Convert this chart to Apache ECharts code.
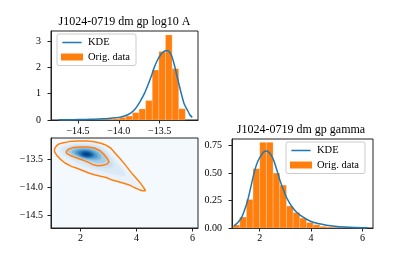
<!DOCTYPE html>
<html><head><meta charset="utf-8">
<script src="https://cdn.jsdelivr.net/npm/echarts@6/dist/echarts.min.js"></script>
<style>html,body{margin:0;padding:0;background:#fff}#c{width:415px;height:257px}</style>
</head><body><div id="c"></div>
<script>
const titleA = 'J1024-0719 dm gp log10 A';
const titleB = 'J1024-0719 dm gp gamma';
const legendNames = ['KDE', 'Orig. data'];

const ticksAx = [-14.5, -14.0, -13.5];
const ticksAy = [0, 1, 2, 3];
const ticksBx = [2, 4, 6];
const ticksBy = [0, 0.25, 0.5, 0.75];
const ticksCx = [2, 4, 6];
const ticksCy = [-14.5, -14.0, -13.5];

// top-left histogram (log10 A)
const histAEdges = [-14.724, -14.643, -14.562, -14.481, -14.400, -14.319, -14.238, -14.157, -14.076, -13.995,
  -13.914, -13.833, -13.752, -13.671, -13.590, -13.509, -13.428, -13.347, -13.266, -13.185];
const histAHeights = [0.005, 0.005, 0.01, 0.01, 0.015, 0.02, 0.03, 0.04, 0.06, 0.10,
  0.15, 0.28, 0.42, 0.74, 1.90, 2.60, 3.23, 1.95, 0.43];
const kdeA = [[-14.74, 0.005], [-14.6, 0.01], [-14.5, 0.015], [-14.4, 0.02], [-14.3, 0.03], [-14.2, 0.045],
  [-14.1, 0.07], [-14.0, 0.10], [-13.93, 0.15], [-13.86, 0.25], [-13.8, 0.42], [-13.74, 0.70], [-13.69, 0.98],
  [-13.65, 1.27], [-13.6, 1.68], [-13.57, 1.96], [-13.53, 2.25], [-13.49, 2.47], [-13.45, 2.60], [-13.41, 2.64],
  [-13.38, 2.58], [-13.35, 2.41], [-13.32, 2.10], [-13.29, 1.71], [-13.26, 1.32], [-13.23, 0.95], [-13.2, 0.62],
  [-13.16, 0.38], [-13.13, 0.20], [-13.1, 0.10]];

// right histogram (gamma)
const histBEdges = [0.96, 1.22, 1.48, 1.74, 2.00, 2.26, 2.52, 2.78, 3.04, 3.30, 3.56, 3.82, 4.08, 4.34,
  4.60, 4.86, 5.12, 5.38, 5.64, 5.90, 6.16];
const histBHeights = [0.027, 0.10, 0.26, 0.54, 0.78, 0.78, 0.50, 0.39, 0.20, 0.14, 0.09, 0.05, 0.03,
  0.015, 0.01, 0.005, 0.004, 0.003, 0.002, 0.002];
const kdeB = [[1.0, 0.02], [1.15, 0.05], [1.29, 0.094], [1.42, 0.17], [1.54, 0.26], [1.67, 0.39], [1.80, 0.52],
  [1.93, 0.61], [2.07, 0.666], [2.17, 0.695], [2.26, 0.70], [2.39, 0.68], [2.52, 0.63], [2.65, 0.54],
  [2.78, 0.44], [2.91, 0.355], [3.04, 0.28], [3.17, 0.225], [3.30, 0.18], [3.43, 0.145], [3.56, 0.12],
  [3.69, 0.098], [3.82, 0.08], [4.05, 0.055], [4.27, 0.04], [4.6, 0.025], [4.92, 0.015], [5.3, 0.008],
  [5.7, 0.004], [6.2, 0.002]];

// 2D density (gamma vs log10 A): level values and their iso-regions
const densityLevels = [0.07, 0.14, 0.23, 0.34, 0.46, 0.58, 0.71, 0.84, 0.93];
const densityPolygons = [
  [[1.15,-13.31],[1.3,-13.24],[1.6,-13.2],[2.0,-13.19],[2.4,-13.2],[2.75,-13.24],[3.0,-13.31],[3.2,-13.42],[3.45,-13.57],[3.75,-13.76],[4.05,-13.93],[4.15,-14.01],[3.9,-13.98],[3.5,-13.9],[3.0,-13.82],[2.5,-13.75],[2.0,-13.66],[1.6,-13.57],[1.3,-13.47],[1.16,-13.38]],
  [[1.3,-13.32],[1.55,-13.25],[1.9,-13.22],[2.3,-13.22],[2.65,-13.26],[2.9,-13.33],[3.1,-13.45],[3.35,-13.6],[3.6,-13.78],[3.3,-13.77],[2.9,-13.72],[2.5,-13.67],[2.1,-13.6],[1.7,-13.5],[1.4,-13.41]],
  [[1.45,-13.33],[1.7,-13.27],[2.0,-13.25],[2.35,-13.26],[2.65,-13.3],[2.88,-13.38],[3.05,-13.5],[3.15,-13.62],[2.85,-13.64],[2.5,-13.6],[2.15,-13.54],[1.8,-13.46],[1.55,-13.4]],
  [[1.58,-13.34],[1.8,-13.29],[2.1,-13.28],[2.42,-13.3],[2.68,-13.35],[2.85,-13.44],[2.92,-13.53],[2.7,-13.56],[2.4,-13.53],[2.1,-13.48],[1.82,-13.43],[1.64,-13.39]],
  [[1.7,-13.35],[1.95,-13.31],[2.25,-13.31],[2.5,-13.34],[2.7,-13.41],[2.72,-13.48],[2.5,-13.5],[2.2,-13.47],[1.92,-13.42],[1.75,-13.39]],
  [[1.82,-13.36],[2.05,-13.33],[2.32,-13.34],[2.55,-13.39],[2.6,-13.45],[2.4,-13.47],[2.15,-13.45],[1.9,-13.41]],
  [[1.93,-13.37],[2.15,-13.35],[2.38,-13.37],[2.5,-13.42],[2.38,-13.45],[2.15,-13.44],[1.98,-13.41]],
  [[2.03,-13.38],[2.2,-13.36],[2.38,-13.39],[2.42,-13.425],[2.3,-13.44],[2.12,-13.43],[2.05,-13.41]],
  [[2.12,-13.39],[2.25,-13.38],[2.33,-13.405],[2.28,-13.425],[2.15,-13.42]]
];
const contourOuter = [[1.07,-13.31],[1.13,-13.26],[1.22,-13.22],[1.36,-13.20],[1.60,-13.175],[1.90,-13.165],[2.20,-13.165],[2.44,-13.175],[2.70,-13.20],[2.88,-13.23],[3.08,-13.29],[3.22,-13.37],[3.34,-13.44],[3.45,-13.50],[3.58,-13.58],[3.72,-13.67],[3.86,-13.76],[4.00,-13.84],[4.14,-13.92],[4.24,-13.99],[4.33,-14.06],[4.22,-14.06],[4.10,-14.04],[3.92,-14.0],[3.72,-13.95],[3.52,-13.92],[3.30,-13.89],[3.10,-13.86],[2.92,-13.82],[2.72,-13.80],[2.50,-13.77],[2.30,-13.74],[2.10,-13.70],[1.90,-13.66],[1.68,-13.62],[1.45,-13.56],[1.28,-13.49],[1.15,-13.42],[1.08,-13.36],[1.07,-13.31]];
const contourInner = [[1.49,-13.36],[1.58,-13.31],[1.75,-13.28],[2.0,-13.27],[2.25,-13.27],[2.50,-13.29],[2.70,-13.34],[2.85,-13.41],[2.96,-13.48],[3.02,-13.54],[2.95,-13.58],[2.80,-13.60],[2.62,-13.61],[2.45,-13.59],[2.25,-13.54],[2.05,-13.50],[1.82,-13.46],[1.62,-13.42],[1.52,-13.39],[1.49,-13.36]];

const FONT = 'Liberation Serif';
const ORANGE = '#ff7f0e', BLUE = '#1f77b4', FRAME = '#222';
const neg = v => (v < 0 ? '\u2212' : '') + Math.abs(v).toFixed(1);
// thin horizontal bar centred in an 22x8 box (legend line icon)
const LINE_ICON = 'path://M0,0H22V0.01H0Z M0,3.25H22V4.75H0Z M0,7.99H22V8H0Z';

function valAxis(idx, min, max, ticks, fmt, margin) {
  return {
    type: 'value', gridIndex: idx, min: min, max: max, scale: true,
    axisLine: { show: true, onZero: false, lineStyle: { color: FRAME, width: 1 } },
    axisTick: { show: true, inside: false, length: 3.5, lineStyle: { color: FRAME, width: 1 }, customValues: ticks },
    axisLabel: { show: true, customValues: ticks, formatter: fmt, fontFamily: FONT, fontSize: 10, color: '#000', margin: margin },
    splitLine: { show: false }
  };
}
function histRender(params, api) {
  const p0 = api.coord([api.value(0), api.value(2)]);
  const p1 = api.coord([api.value(1), 0]);
  return { type: 'rect', shape: { x: p0[0], y: p0[1], width: p1[0] - p0[0], height: p1[1] - p0[1] },
    style: { fill: ORANGE, stroke: 'rgba(255,255,255,0.35)', lineWidth: 0.6 } };
}
const legendCommon = {
  orient: 'vertical', selectedMode: false, itemWidth: 22, itemHeight: 7, itemGap: 3.5,
  padding: [3, 6, 3, 4], backgroundColor: 'rgba(255,255,255,0.85)', borderColor: '#cccccc', borderWidth: 1, borderRadius: 2,
  textStyle: { fontFamily: FONT, fontSize: 10.5, color: '#000' },
  data: [{ name: legendNames[0], icon: LINE_ICON }, { name: legendNames[1], icon: 'rect' }]
};

const chart = echarts.init(document.getElementById('c'), null, { renderer: 'canvas' });
chart.setOption({
  animation: false,
  backgroundColor: '#fff',
  graphic: [
    { type: 'text', x: 124.5, y: 21.5, style: { text: titleA, align: 'center', verticalAlign: 'middle', fontFamily: FONT, fontSize: 12, fill: '#000' } },
    { type: 'text', x: 301, y: 129.5, style: { text: titleB, align: 'center', verticalAlign: 'middle', fontFamily: FONT, fontSize: 12, fill: '#000' } }
  ],
  legend: [
    Object.assign({}, legendCommon, { left: 57, top: 34 }),
    Object.assign({}, legendCommon, { left: 286, top: 142 })
  ],
  grid: [
    { left: 51, top: 31, width: 147, height: 89, show: true, borderColor: FRAME, borderWidth: 1, backgroundColor: '#fff' },
    { left: 51, top: 138, width: 147, height: 90, show: true, borderColor: FRAME, borderWidth: 1, backgroundColor: '#f4f9fe' },
    { left: 232, top: 139, width: 141, height: 89, show: true, borderColor: FRAME, borderWidth: 1, backgroundColor: '#fff' }
  ],
  xAxis: [
    valAxis(0, -14.83, -13.03, ticksAx, neg, 6),
    valAxis(1, 0.95, 6.2, ticksCx, v => String(v), 5),
    valAxis(2, 0.92, 6.41, ticksBx, v => String(v), 5)
  ],
  yAxis: [
    valAxis(0, 0, 3.38, ticksAy, v => String(v), 10),
    valAxis(1, -14.73, -13.11, ticksCy, neg, 8),
    valAxis(2, 0, 0.81, ticksBy, v => v.toFixed(2), 10)
  ],
  visualMap: [{
    type: 'continuous', show: false, seriesIndex: 2, dimension: 0, min: 0, max: 1,
    inRange: { color: ['#f7fbff', '#deebf7', '#c6dbef', '#9ecae1', '#6baed6', '#4292c6', '#2171b5', '#08519c', '#08306b'] }
  }],
  series: [
    { type: 'custom', name: legendNames[1], xAxisIndex: 0, yAxisIndex: 0, z: 2,
      itemStyle: { color: ORANGE },
      data: histAHeights.map((h, i) => [histAEdges[i], histAEdges[i + 1], h]),
      encode: { x: [0, 1], y: 2 }, renderItem: histRender },
    { type: 'line', name: legendNames[0], xAxisIndex: 0, yAxisIndex: 0, z: 3, data: kdeA,
      symbol: 'none', smooth: 0.3, lineStyle: { color: BLUE, width: 1.5 }, itemStyle: { color: BLUE } },
    { type: 'custom', name: 'density', xAxisIndex: 1, yAxisIndex: 1, z: 1,
      data: densityLevels.map((lv, i) => [lv, i]),
      encode: { x: -1, y: -1 },
      renderItem: function (params, api) {
        const idx = api.value(1);
        const pts = densityPolygons[idx].map(p => api.coord(p));
        const c = api.visual('color');
        return { type: 'polygon', shape: { points: pts, smooth: 0.4 }, style: { fill: c, shadowBlur: 3, shadowColor: c } };
      } },
    { type: 'line', name: 'outer contour', xAxisIndex: 1, yAxisIndex: 1, z: 3, data: contourOuter,
      symbol: 'none', lineStyle: { color: ORANGE, width: 1.5 } },
    { type: 'line', name: 'inner contour', xAxisIndex: 1, yAxisIndex: 1, z: 3, data: contourInner,
      symbol: 'none', lineStyle: { color: ORANGE, width: 1.5 } },
    { type: 'custom', name: legendNames[1], xAxisIndex: 2, yAxisIndex: 2, z: 2,
      itemStyle: { color: ORANGE },
      data: histBHeights.map((h, i) => [histBEdges[i], histBEdges[i + 1], h]),
      encode: { x: [0, 1], y: 2 }, renderItem: histRender },
    { type: 'line', name: legendNames[0], xAxisIndex: 2, yAxisIndex: 2, z: 3, data: kdeB,
      symbol: 'none', smooth: 0.3, lineStyle: { color: BLUE, width: 1.5 }, itemStyle: { color: BLUE } }
  ]
});
</script></body></html>
